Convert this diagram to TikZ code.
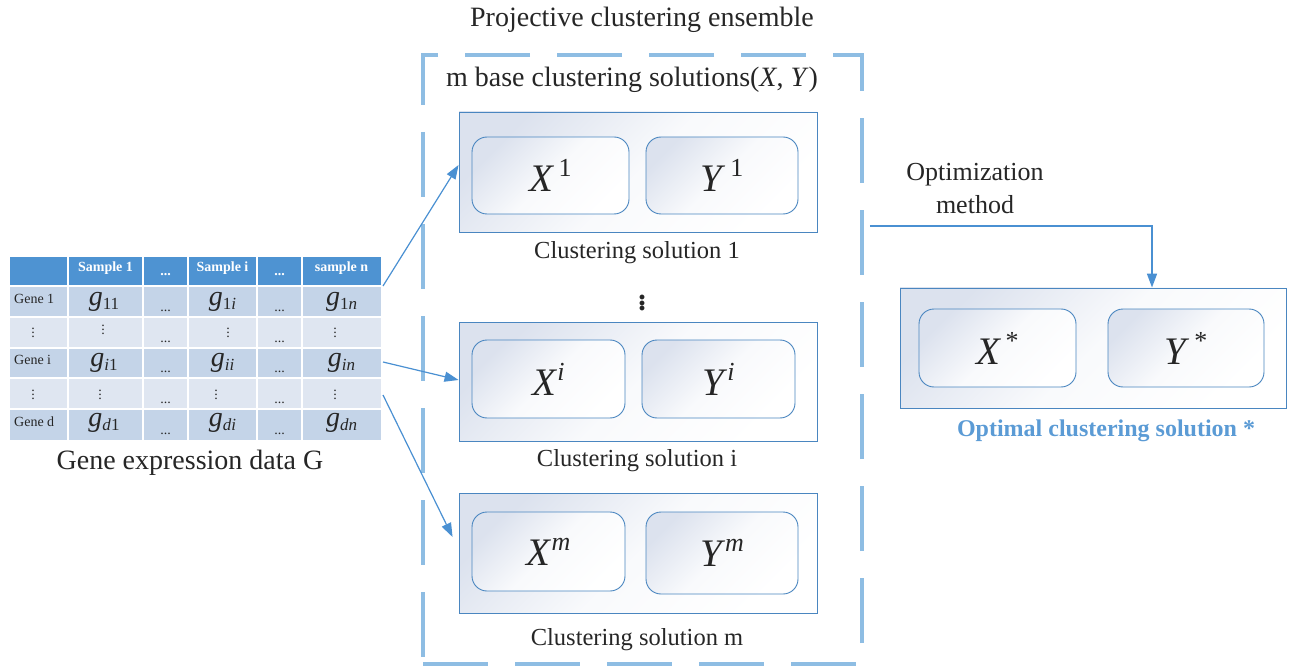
\documentclass[tikz,border=0pt]{standalone}
\usepackage{fontspec}
\setmainfont{Liberation Serif}
\usetikzlibrary{arrows.meta,calc}

\definecolor{txt}{HTML}{262626}
\definecolor{hdr}{HTML}{4E93D2}
\definecolor{rowA}{HTML}{C4D4E8}
\definecolor{rowB}{HTML}{DFE6F1}
\definecolor{edge}{HTML}{4A86C0}
\definecolor{shadeC}{HTML}{DCE2EE}
\definecolor{arrowC}{HTML}{4A90D2}
\definecolor{dashC}{HTML}{8EBDE3}
\definecolor{optC}{HTML}{5B9BD5}

% table entry g_{..}
\newcommand\gij[1]{\textit{g}\raisebox{-4pt}{\fontsize{17}{17}\selectfont #1}}
% component symbol with superscript
\newcommand\comp[2]{\textit{#1}\raisebox{15pt}{\fontsize{26}{26}\selectfont #2}}

\tikzset{
  lbl/.style={text=txt, font=\fontsize{28}{32}\selectfont, inner sep=0pt},
  solcaption/.style={text=txt, font=\fontsize{24.5}{28}\selectfont, inner sep=0pt},
  solbox/.style={draw=edge, line width=0.9pt, top color=shadeC, bottom color=white,
    middle color=white!82!shadeC, shading angle=45, inner sep=0pt},
  compbox/.style={draw=edge, line width=0.9pt, rounded corners=15pt, top color=shadeC,
    bottom color=white, middle color=white!82!shadeC, shading angle=45, inner sep=0pt,
    text=txt, font=\fontsize{39}{40}\selectfont},
  link/.style={draw=arrowC, line width=1.2pt, -{Triangle[length=14pt,width=10pt]}},
  hcell/.style={text=white, font=\bfseries\fontsize{14}{16}\selectfont, inner sep=0pt},
  gcell/.style={text=txt, font=\fontsize{28}{30}\selectfont, inner sep=0pt},
  rcell/.style={text=txt, font=\fontsize{14}{16}\selectfont, inner sep=0pt},
  vcell/.style={text=txt, font=\fontsize{14}{16}\selectfont, inner sep=0pt},
  dcell/.style={text=txt, font=\fontsize{14}{16}\selectfont, inner sep=0pt, anchor=base},
}

\begin{document}
\begin{tikzpicture}[x=1pt,y=-1pt]
\useasboundingbox (0,0) rectangle (1290,668);

% ---------- gene expression table ----------
\foreach \ya/\yb/\c in {257/286/hdr,286/317/rowA,317/348/rowB,348/378/rowA,378/409/rowB,409/440/rowA}
  \fill[\c] (10,\ya) rectangle (381,\yb);
\foreach \x in {68,143,188,257,302}
  \draw[white,line width=2pt] (\x,257) -- (\x,440);
\foreach \y in {286,317,348,378,409}
  \draw[white,line width=2pt] (10,\y) -- (381,\y);

% header
\node[hcell] (h1) at (105.5,268) {Sample 1};
\node[hcell] (h2) at (165.5,275) {...};
\node[hcell] (h3) at (222.5,268) {Sample i};
\node[hcell] (h4) at (279.5,275) {...};
\node[hcell] (h5) at (341.5,268) {sample n};

% rows
\node[rcell,anchor=west] (r1) at (14,299) {Gene 1};
\node[gcell] (c11) at (104,302) {\gij{11}};
\node[dcell] (c12) at (165.5,311) {...};
\node[gcell] (c13) at (222.5,302) {\gij{1\textit{i}}};
\node[dcell] (c14) at (279.5,311) {...};
\node[gcell] (c15) at (341.5,302) {\gij{1\textit{n}}};

\node[vcell] (r2) at (33,330) {$\vdots$};
\node[vcell] (c21) at (103,327) {$\vdots$};
\node[dcell] (c22) at (165.5,342) {...};
\node[vcell] (c23) at (228,330) {$\vdots$};
\node[dcell] (c24) at (279.5,342) {...};
\node[vcell] (c25) at (335,330) {$\vdots$};

\node[rcell,anchor=west] (r3) at (14,360) {Gene i};
\node[gcell] (c31) at (104,363) {\gij{\textit{i}1}};
\node[dcell] (c32) at (165.5,372) {...};
\node[gcell] (c33) at (222.5,363) {\gij{\textit{ii}}};
\node[dcell] (c34) at (279.5,372) {...};
\node[gcell] (c35) at (341.5,363) {\gij{\textit{in}}};

\node[vcell] (r4) at (33,392) {$\vdots$};
\node[vcell] (c41) at (100,392) {$\vdots$};
\node[dcell] (c42) at (165.5,403) {...};
\node[vcell] (c43) at (216,392) {$\vdots$};
\node[dcell] (c44) at (279.5,403) {...};
\node[vcell] (c45) at (335,392) {$\vdots$};

\node[rcell,anchor=west] (r5) at (14,422) {Gene d};
\node[gcell] (c51) at (104,423) {\gij{\textit{d}1}};
\node[dcell] (c52) at (165.5,434) {...};
\node[gcell] (c53) at (222.5,423) {\gij{\textit{di}}};
\node[dcell] (c54) at (279.5,434) {...};
\node[gcell] (c55) at (341.5,423) {\gij{\textit{dn}}};

\node[lbl] (tabcap) at (190,463) {Gene expression data G};

\coordinate (tA) at (383,286);
\coordinate (tB) at (383,362);
\coordinate (tC) at (383,395);

% ---------- projective clustering ensemble ----------
\node[lbl] (enstitle) at (642,20) {Projective clustering ensemble};
\node[draw=dashC, line width=3.5pt, dash pattern=on 65pt off 27pt,
      minimum width=439pt, minimum height=609pt, inner sep=0pt] (ens) at (642.5,359.5) {};
\node[lbl] (basecap) at (632,80) {m base clustering solutions(\textit{X}, \textit{Y})};

% solution 1
\node[solbox, minimum width=358pt, minimum height=120pt] (s1) at (638,172) {};
\node[compbox, minimum width=157pt, minimum height=77pt] (x1) at (550.5,175.5) {\comp{X}{\,1}};
\node[compbox, minimum width=152pt, minimum height=77pt] (y1) at (722,175.5) {\comp{Y}{\,1}};
\node[solcaption] (s1cap) at (637,253) {Clustering solution 1};

\node[text=txt, font=\bfseries\fontsize{30}{30}\selectfont, inner sep=0pt] (dots) at (642,300) {$\vdots$};

% solution i
\node[solbox, minimum width=358pt, minimum height=119pt] (si) at (638,381.5) {};
\node[compbox, minimum width=153pt, minimum height=78pt] (xi) at (548.5,379) {\comp{X}{\textit{i}}};
\node[compbox, minimum width=153pt, minimum height=78pt] (yi) at (718.5,379) {\comp{Y}{\textit{i}}};
\node[solcaption] (sicap) at (637,461) {Clustering solution i};

% solution m
\node[solbox, minimum width=358pt, minimum height=120pt] (sm) at (638,553) {};
\node[compbox, minimum width=153pt, minimum height=79pt] (xm) at (548.5,551.5) {\comp{X}{\textit{m}}};
\node[compbox, minimum width=152pt, minimum height=82pt] (ym) at (722,553) {\comp{Y}{\textit{m}}};
\node[solcaption] (smcap) at (637,640) {Clustering solution m};

% ---------- optimal solution ----------
\node[lbl, align=center, font=\fontsize{26}{33}\selectfont] (optm) at (975,189) {Optimization\\method};
\node[solbox, minimum width=386pt, minimum height=120pt] (so) at (1093,348) {};
\node[compbox, minimum width=157pt, minimum height=78pt] (xs) at (997.5,348) {\comp{X}{\,*}};
\node[compbox, minimum width=156pt, minimum height=78pt] (ys) at (1186,348) {\comp{Y}{\,*}};
\node[text=optC, font=\bfseries\fontsize{24}{28}\selectfont, inner sep=0pt] (socap) at (1106,431) {Optimal clustering solution *};

% ---------- connectors ----------
\draw[link] (tA) -- (s1.west |- 0,165);
\draw[link] (tB) -- (si.west |- 0,380);
\draw[link] (tC) -- ($(sm.west |- 0,537)+(-6,0)$);

\coordinate (o0) at ($(ens.east |- 0,226)+(6,0)$);
\draw[draw=arrowC, line width=1.6pt, -{Triangle[length=14pt,width=10pt]}]
  (o0) -- (1152,226) -- (1152,226 |- so.north);
\end{tikzpicture}
\end{document}
